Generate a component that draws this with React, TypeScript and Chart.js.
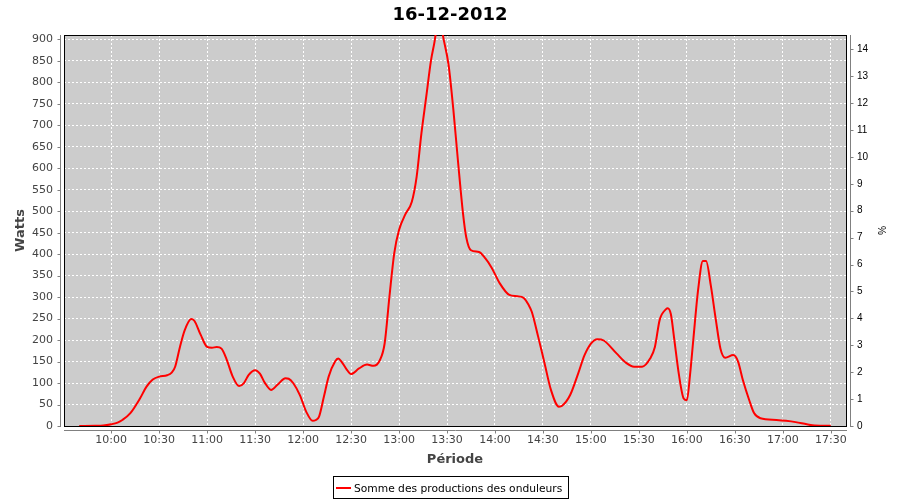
import React, { useEffect, useRef } from 'react';
import { Chart, registerables } from 'chart.js';

Chart.register(...registerables);

const chartTitle = '16-12-2012';
const xAxisTitle = 'Période';
const leftAxisTitle = 'Watts';
const rightAxisTitle = '%';
const seriesLabel = 'Somme des productions des onduleurs';

const times = [
  '09:40', '09:50', '09:55', '10:00', '10:04', '10:07', '10:12', '10:18', '10:22', '10:26',
  '10:30', '10:35', '10:38', '10:40', '10:43', '10:46', '10:50', '10:52', '10:56', '11:00',
  '11:03', '11:06', '11:09', '11:12', '11:16', '11:20', '11:23', '11:26', '11:30', '11:33',
  '11:36', '11:40', '11:44', '11:49', '11:51', '11:54', '11:58', '12:02', '12:06', '12:08',
  '12:10', '12:13', '12:16', '12:20', '12:22', '12:24', '12:27', '12:30', '12:35', '12:40',
  '12:44', '12:48', '12:51', '12:54', '12:57', '13:00', '13:04', '13:08', '13:11', '13:14',
  '13:17', '13:20', '13:22', '13:25', '13:28', '13:31', '13:34', '13:37', '13:40', '13:42',
  '13:45', '13:50', '13:54', '13:58', '14:03', '14:09', '14:14', '14:18', '14:21', '14:23',
  '14:27', '14:31', '14:35', '14:40', '14:42', '14:47', '14:52', '14:56', '15:00', '15:04',
  '15:08', '15:16', '15:22', '15:27', '15:32', '15:37', '15:40', '15:43', '15:47', '15:48',
  '15:50', '15:52', '15:55', '15:58', '16:00', '16:02', '16:04', '16:07', '16:10', '16:12',
  '16:15', '16:18', '16:21', '16:24', '16:29', '16:32', '16:35', '16:39', '16:42', '16:46',
  '16:56', '17:02', '17:08', '17:15', '17:20', '17:30',
];

const watts = [
  0, 0.5, 1, 4, 8, 14, 30, 64, 91, 108,
  115, 118, 125, 138, 184, 223, 249, 245, 212, 184,
  182, 184, 180, 157, 115, 93, 100, 119, 130, 122,
  101, 84, 96, 111, 110, 99, 72, 33, 12, 14,
  22, 68, 115, 150, 157, 150, 133, 121, 134, 143,
  140, 153, 192, 301, 402, 456, 493, 522, 580, 681,
  766, 851, 890, 950, 898, 840, 735, 611, 495, 440,
  409, 405, 390, 368, 332, 305, 302, 298, 282, 266,
  208, 146, 84, 45, 47, 72, 122, 165, 192, 202,
  199, 169, 147, 138, 138, 157, 184, 247, 272, 274,
  260, 205, 120, 64, 60, 120, 200, 316, 384, 384,
  326, 250, 180, 159, 165, 150, 107, 60, 30, 18,
  14, 12, 9, 4, 1, 0.5,
];

const xTickLabels = ['10:00', '10:30', '11:00', '11:30', '12:00', '12:30', '13:00', '13:30', '14:00', '14:30', '15:00', '15:30', '16:00', '16:30', '17:00', '17:30'];
const leftTicks = [0, 50, 100, 150, 200, 250, 300, 350, 400, 450, 500, 550, 600, 650, 700, 750, 800, 850, 900];
const rightTicks = [0, 1, 2, 3, 4, 5, 6, 7, 8, 9, 10, 11, 12, 13, 14];

const xMin = '09:30.5';
const xMax = '17:39.5';
const leftMax = 910;
const rightMax = 14.53;

const toMin = (t: string) => {
  const [h, m] = t.split(':');
  return Number(h) * 60 + Number(m);
};
const fmtTime = (v: number) => {
  const h = Math.floor(v / 60);
  const m = Math.round(v - h * 60);
  return `${h}:${String(m).padStart(2, '0')}`;
};

const FONT = '"DejaVu Sans", sans-serif';
const AXIS_GRAY = '#808080';

const decorPlugin = {
  id: 'decor',
  beforeDraw(chart: any) {
    const { ctx, chartArea: a } = chart;
    ctx.save();
    ctx.fillStyle = '#ffffff';
    ctx.fillRect(0, 0, chart.width, chart.height);
    ctx.fillStyle = '#cccccc';
    ctx.fillRect(a.left, a.top, a.right - a.left, a.bottom - a.top);
    ctx.restore();
  },
  beforeDatasetsDraw(chart: any) {
    const { ctx, chartArea: a } = chart;
    ctx.save();
    ctx.strokeStyle = '#000000';
    ctx.lineWidth = 1;
    ctx.strokeRect(a.left + 0.5, a.top + 0.5, a.right - a.left, a.bottom - a.top);
    ctx.restore();
  },
  afterDraw(chart: any) {
    const { ctx, chartArea: a, scales } = chart;
    ctx.save();
    ctx.strokeStyle = AXIS_GRAY;
    ctx.lineWidth = 1;
    // left axis line + ticks
    const lx = a.left - 3.5;
    ctx.beginPath();
    ctx.moveTo(lx, a.top);
    ctx.lineTo(lx, a.bottom + 1);
    leftTicks.forEach((v) => {
      const y = Math.round(scales.y.getPixelForValue(v)) + 0.5;
      ctx.moveTo(lx - 0.5, y);
      ctx.lineTo(lx - 3, y);
    });
    // right axis line + ticks
    const rx = a.right + 4.5;
    ctx.moveTo(rx, a.top);
    ctx.lineTo(rx, a.bottom + 1);
    rightTicks.forEach((v) => {
      const y = Math.round(scales.y1.getPixelForValue(v)) + 0.5;
      ctx.moveTo(rx + 0.5, y);
      ctx.lineTo(rx + 3, y);
    });
    // bottom axis line + ticks
    const by = a.bottom + 4.5;
    ctx.moveTo(a.left, by);
    ctx.lineTo(a.right + 1, by);
    xTickLabels.forEach((t) => {
      const x = Math.round(scales.x.getPixelForValue(toMin(t))) + 0.5;
      ctx.moveTo(x, by + 0.5);
      ctx.lineTo(x, by + 3);
    });
    ctx.stroke();

    // legend
    ctx.font = `10.7px ${FONT}`;
    const tw = ctx.measureText(seriesLabel).width;
    const boxW = Math.round(3 + 15 + 3 + tw + 6);
    const bx = Math.round(chart.width / 2 + 0.5 - boxW / 2);
    const boxTop = 476;
    ctx.strokeStyle = '#000000';
    ctx.strokeRect(bx + 0.5, boxTop + 0.5, boxW, 22);
    ctx.strokeStyle = '#ff0000';
    ctx.lineWidth = 2;
    ctx.beginPath();
    ctx.moveTo(bx + 3, boxTop + 12);
    ctx.lineTo(bx + 18, boxTop + 12);
    ctx.stroke();
    ctx.fillStyle = '#000000';
    ctx.textBaseline = 'alphabetic';
    ctx.textAlign = 'left';
    ctx.fillText(seriesLabel, bx + 21, boxTop + 16);
    ctx.restore();
  },
};

export default function App() {
  const canvasRef = useRef<HTMLCanvasElement | null>(null);

  useEffect(() => {
    const canvas = canvasRef.current;
    if (!canvas) return;
    Chart.defaults.font.family = FONT;
    const points = times.map((t, i) => ({ x: toMin(t), y: watts[i] }));
    const chart = new Chart(canvas, {
      type: 'line',
      data: {
        datasets: [
          {
            label: seriesLabel,
            data: points,
            borderColor: '#ff0000',
            backgroundColor: '#ff0000',
            borderWidth: 2,
            pointRadius: 0,
            cubicInterpolationMode: 'monotone',
            fill: false,
            yAxisID: 'y',
          },
        ],
      },
      options: {
        responsive: false,
        animation: false,
        layout: { padding: { left: 0, right: 0, top: 0, bottom: 28 } },
        plugins: {
          legend: { display: false },
          tooltip: { enabled: false },
          title: {
            display: true,
            text: chartTitle,
            color: '#000000',
            font: { family: FONT, size: 18, weight: 'bold', lineHeight: 1.2 },
            padding: { top: 5, bottom: 8.4 },
          },
        },
        scales: {
          x: {
            type: 'linear',
            position: 'bottom',
            min: toMin(xMin),
            max: toMin(xMax),
            afterBuildTicks: (s: any) => {
              s.ticks = xTickLabels.map((t) => ({ value: toMin(t) }));
            },
            afterFit: (s: any) => {
              s.height = 46;
            },
            ticks: {
              callback: (v: any) => fmtTime(Number(v)),
              color: '#444444',
              font: { family: FONT, size: 11 },
              padding: 8,
              maxRotation: 0,
              autoSkip: false,
            },
            grid: { color: '#ffffff', lineWidth: 1, drawTicks: false },
            border: { display: false, dash: [2, 2] },
            title: {
              display: true,
              text: xAxisTitle,
              color: '#444444',
              font: { family: FONT, size: 13, weight: 'bold' },
              padding: { top: 0, bottom: 5 },
            },
          },
          y: {
            type: 'linear',
            position: 'left',
            min: 0,
            max: leftMax,
            afterBuildTicks: (s: any) => {
              s.ticks = leftTicks.map((v) => ({ value: v }));
            },
            afterFit: (s: any) => {
              s.width = 64;
            },
            ticks: {
              color: '#444444',
              font: { family: FONT, size: 11 },
              padding: 11,
            },
            grid: { color: '#ffffff', lineWidth: 1, drawTicks: false },
            border: { display: false, dash: [2, 2] },
            title: {
              display: true,
              text: leftAxisTitle,
              color: '#444444',
              font: { family: FONT, size: 13, weight: 'bold' },
              padding: { top: 13, bottom: 0 },
            },
          },
          y1: {
            type: 'linear',
            position: 'right',
            min: 0,
            max: rightMax,
            afterBuildTicks: (s: any) => {
              s.ticks = rightTicks.map((v) => ({ value: v }));
            },
            afterFit: (s: any) => {
              s.width = 54;
            },
            ticks: {
              color: '#000000',
              font: { family: '"Liberation Sans", sans-serif', size: 10 },
              padding: 11,
            },
            grid: { display: false, drawTicks: false },
            border: { display: false },
            title: {
              display: true,
              text: rightAxisTitle,
              color: '#000000',
              font: { family: '"Liberation Sans", sans-serif', size: 10 },
              padding: { top: 13.5, bottom: 0 },
            },
          },
        },
      },
      plugins: [decorPlugin],
    } as any);
    return () => chart.destroy();
  }, []);

  return (
    <div style={{ position: 'fixed', left: 0, top: 0, width: 900, height: 500, background: '#fff' }}>
      <canvas ref={canvasRef} width={900} height={500} style={{ display: 'block' }} />
    </div>
  );
}
